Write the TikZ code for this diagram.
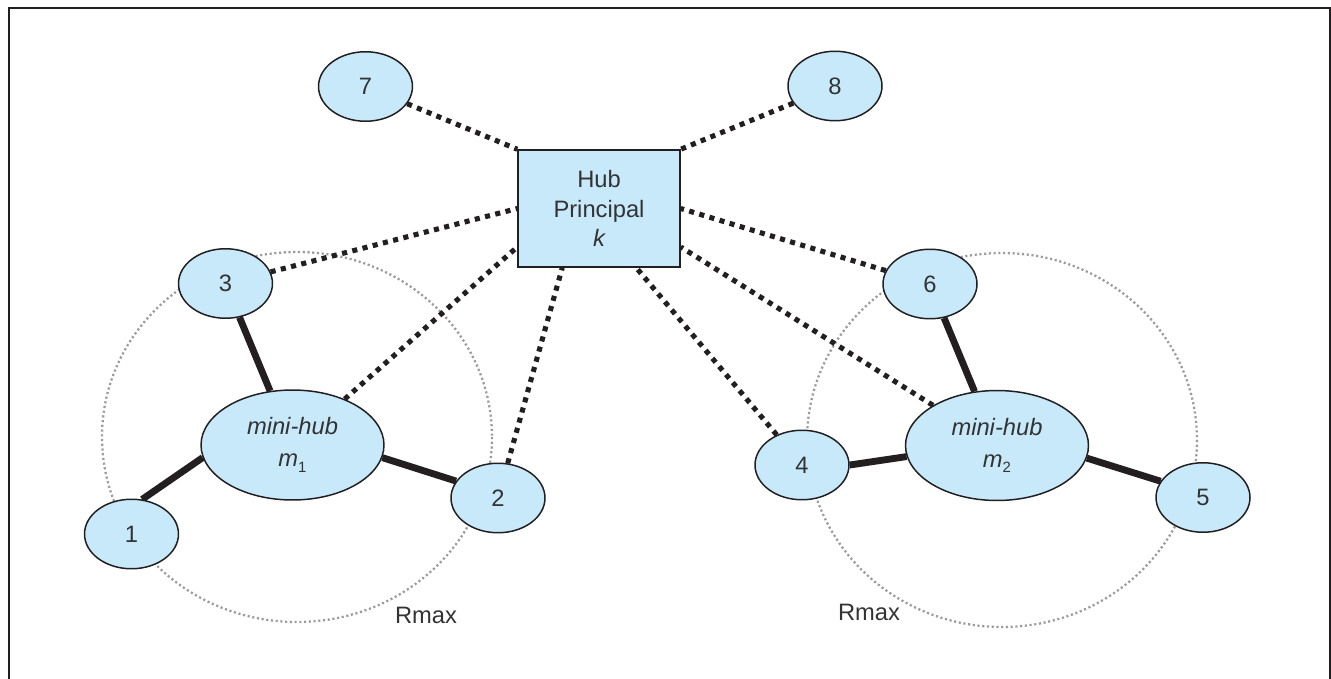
\documentclass[tikz,border=0pt]{standalone}
\usepackage{fontspec}
\setmainfont{Liberation Sans}
\usetikzlibrary{shapes.geometric,calc,backgrounds}
\definecolor{nodefill}{RGB}{199,233,250}
\definecolor{ink}{RGB}{35,31,32}
\definecolor{txt}{RGB}{51,51,51}
\definecolor{ringgray}{RGB}{155,155,155}
\newcommand{\subidx}[1]{\raisebox{-0.45ex}{\fontsize{8.5}{9}\selectfont\upshape #1}}
\tikzset{
  leaf/.style={ellipse, draw=ink, line width=0.85pt, fill=nodefill, inner sep=0pt,
    minimum width=1.88cm, minimum height=1.39cm, text=txt, font=\fontsize{13.5}{16}\selectfont},
  minihub/.style={ellipse, draw=ink, line width=0.85pt, fill=nodefill, inner sep=0pt,
    minimum width=3.66cm, minimum height=2.2cm, text=txt, align=center, font=\fontsize{13.5}{18}\selectfont},
  mainhub/.style={rectangle, draw=ink, line width=0.85pt, fill=nodefill, inner sep=0pt,
    minimum width=3.24cm, minimum height=2.34cm, text=txt, align=center, font=\fontsize{13.5}{17}\selectfont},
  strong/.style={draw=ink, line width=3.9pt},
  weak/.style={draw=ink, line width=2.9pt, dash pattern=on 2.9pt off 3.1pt},
  ring/.style={draw=ringgray, line width=1.3pt, dash pattern=on 1.2pt off 1.5pt},
  frame/.style={draw=ink, line width=1.2pt},
  lbl/.style={text=txt, font=\fontsize{13.5}{16}\selectfont}
}
\begin{document}
\begin{tikzpicture}[x=0.02cm,y=-0.02cm]
\useasboundingbox (0,0) rectangle (1331,679);
% frame
\coordinate (fbl) at (9,679);
\coordinate (ftl) at (9,8);
\coordinate (ftr) at (1330,8);
\coordinate (fbr) at (1330,679);
\draw[frame] (fbl) -- (ftl) -- (ftr) -- (fbr);
% labels
\node[lbl] (rmax1) at (426,615) {Rmax};
\node[lbl] (rmax2) at (869,612) {Rmax};
% nodes
\node[mainhub] (hub) at (599,208.5) {Hub\\Principal\\\itshape k};
\node[leaf] (n7) at (365.5,86.5) {7};
\node[leaf] (n8) at (835,86) {8};
\node[leaf] (n3) at (225.5,283.5) {3};
\node[leaf] (n6) at (930,284) {6};
\node[leaf] (n1) at (131.5,534) {1};
\node[leaf] (n2) at (498,498) {2};
\node[leaf] (n4) at (802,465) {4};
\node[leaf] (n5) at (1203,497.5) {5};
\node[minihub] (m1) at (292.5,445) {\itshape mini-hub\\{\itshape m}\subidx{1}};
\node[minihub] (m2) at (997,445.5) {\itshape mini-hub\\{\itshape m}\subidx{2}};
% hub attachment points
\coordinate (hl) at ($(hub.west)+(0,38.5)$);
\coordinate (hr) at ($(hub.east)+(0,38.5)$);
\coordinate (hb1) at ($(hub.south west)+(45,0)$);
\coordinate (hb2) at ($(hub.south west)+(119,0)$);
\begin{scope}[on background layer]
  % range rings
  \draw[ring] (297,437) ellipse [x radius=195, y radius=185];
  \draw[ring] (1002,440) ellipse [x radius=195, y radius=187];
  % dotted links to main hub
  \draw[weak] (n7) -- (hub.north west);
  \draw[weak] (n8) -- (hub.north east);
  \draw[weak] (n3) -- (hub.west);
  \draw[weak] (n6) -- (hub.east);
  \draw[weak] (m1) -- (hl);
  \draw[weak] (m2) -- (hr);
  \draw[weak] (n2) -- (hb1);
  \draw[weak] (n4) -- (hb2);
  % solid links to mini-hubs
  \draw[strong] (n3) -- (m1);
  \draw[strong] (n1.73) -- (m1.188);
  \draw[strong] (m1.-8) -- (n2.158);
  \draw[strong] (n6) -- (m2);
  \draw[strong] (n4.0) -- (m2.187);
  \draw[strong] (m2.-8) -- (n5.159);
\end{scope}
\end{tikzpicture}
\end{document}
